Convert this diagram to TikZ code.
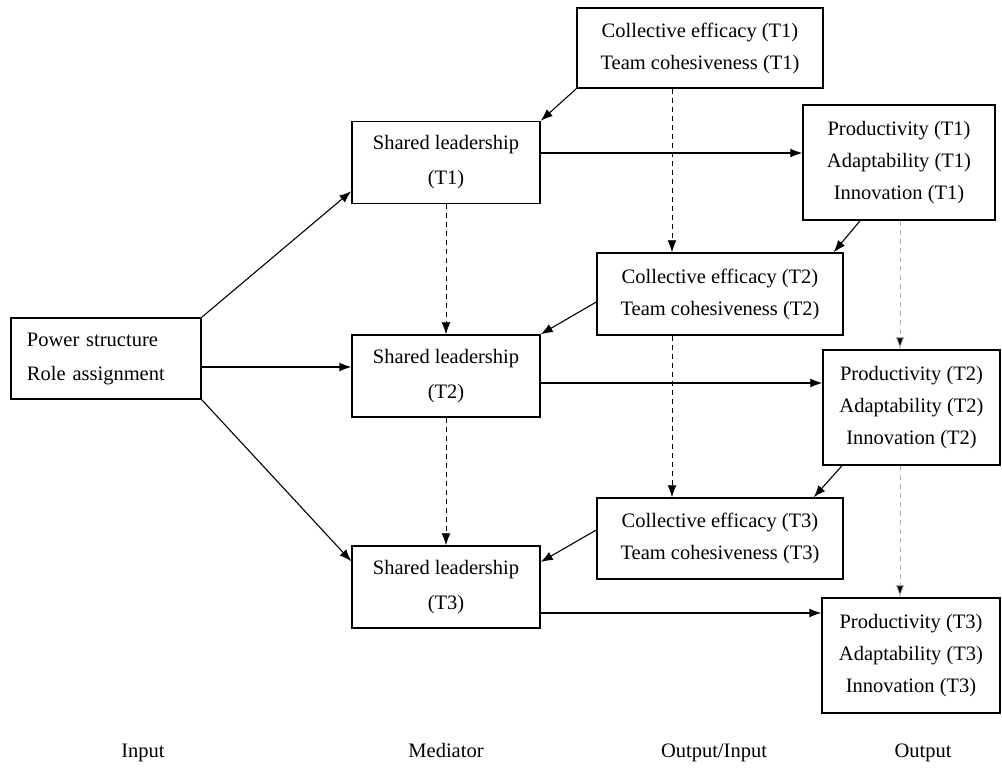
\documentclass[tikz,border=0pt]{standalone}
\usepackage{fontspec}
\setmainfont{Liberation Serif}
\usetikzlibrary{arrows.meta}
\begin{document}
\begin{tikzpicture}[x=1pt,y=-1pt,
 box/.style={draw,line width=1.5pt,inner sep=0pt,align=center,font=\fontsize{20.5}{33}\selectfont},
 slbox/.style={box,font=\fontsize{20.5}{35}\selectfont,minimum width=188pt,minimum height=82pt},
 cebox/.style={box,minimum width=246pt,minimum height=81pt,font=\fontsize{20.5}{32}\selectfont},
 prbox/.style={box,minimum height=115pt,font=\fontsize{20.5}{32}\selectfont},
 lab/.style={font=\fontsize{20.5}{24}\selectfont,inner sep=0pt,anchor=base},
 arr/.style={-{Latex[length=12pt,width=9pt]},line width=1.1pt},
 darr/.style={arr,line width=0.9pt,dash pattern=on 5pt off 4pt},
 garr/.style={darr,draw=gray!60,-{Latex[length=12pt,width=9pt,fill=black]}}]
\useasboundingbox (0,0) rectangle (1002,784);

\node[box,minimum width=190pt,minimum height=81pt,text width=158pt,inner xsep=16pt,align=left,font=\fontsize{20.5}{34}\selectfont] (pw) at (106,358.5) {Power structure\\Role assignment};

\node[slbox] (sl1) at (446,162.5) {Shared leadership\\(T1)};
\node[slbox] (sl2) at (446,376) {Shared leadership\\(T2)};
\node[slbox] (sl3) at (446,587) {Shared leadership\\(T3)};

\node[cebox,minimum height=80pt] (ce1) at (700,48) {Collective efficacy (T1)\\Team cohesiveness (T1)};
\node[cebox,minimum height=82pt] (ce2) at (720,294) {Collective efficacy (T2)\\Team cohesiveness (T2)};
\node[cebox] (ce3) at (720,538.5) {Collective efficacy (T3)\\Team cohesiveness (T3)};

\node[prbox,minimum width=192pt] (pr1) at (899,162.5) {Productivity (T1)\\Adaptability (T1)\\Innovation (T1)};
\node[prbox,minimum width=177pt] (pr2) at (911.5,407.5) {Productivity (T2)\\Adaptability (T2)\\Innovation (T2)};
\node[prbox,minimum width=178pt] (pr3) at (911,655.5) {Productivity (T3)\\Adaptability (T3)\\Innovation (T3)};

\node[lab] (lin) at (143,757) {Input};
\node[lab] (lmed) at (446,757) {Mediator};
\node[lab] (lout) at (714,757) {Output/Input};
\node[lab] (lo) at (923,757) {Output};

% input arrows
\draw[arr] (pw.north east) -- ([yshift=13pt]sl1.south west);
\draw[arr] ([yshift=-8.5pt]pw.east) -- ([yshift=9pt]sl2.west);
\draw[arr] (pw.south east) -- ([yshift=-16pt]sl3.north west);

% mediator to output
\draw[arr] ([yshift=9.5pt]sl1.east) -- ([yshift=9.5pt]pr1.west);
\draw[arr] ([yshift=-7pt]sl2.east) -- ([yshift=24.5pt]pr2.west);
\draw[arr] ([yshift=-26pt]sl3.east) -- ([yshift=42.5pt]pr3.west);

% feedback arrows
\draw[arr] (ce1.south west) -- (sl1.north east);
\draw[arr] ([xshift=-39pt]pr1.south) -- ([xshift=-10pt]ce2.north east);
\draw[arr] ([yshift=-8pt]ce2.west) -- (sl2.north east);
\draw[arr] ([xshift=-69.5pt]pr2.south) -- ([xshift=-30pt]ce3.north east);
\draw[arr] ([yshift=8.5pt]ce3.west) -- ([yshift=25pt]sl3.east);

% dashed
\draw[darr] (sl1.south) -- (sl2.north);
\draw[darr] (sl2.south) -- (sl3.north);
\draw[darr] ([xshift=-28pt]ce1.south) -- ([xshift=-48pt]ce2.north);
\draw[darr] ([xshift=-48pt]ce2.south) -- ([xshift=-48pt]ce3.north);
\draw[garr] ([xshift=1pt]pr1.south) -- ([xshift=-11.5pt]pr2.north);
\draw[garr] ([xshift=-11.5pt]pr2.south) -- ([xshift=-11pt]pr3.north);
\end{tikzpicture}
\end{document}
